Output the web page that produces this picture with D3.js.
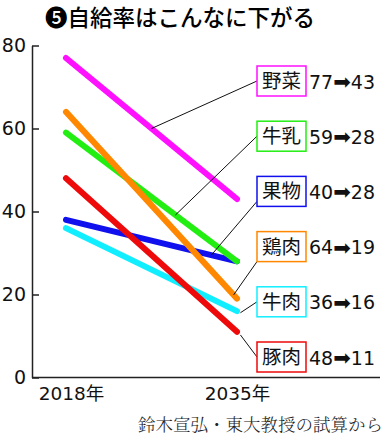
<!DOCTYPE html>
<meta charset="utf-8">
<style>
  body { margin: 0; background: #fff; }
  svg { display: block; }
</style>
<svg width="386" height="436"></svg>
<script src="https://cdn.jsdelivr.net/npm/d3@7"></script>
<script>

// data
var years = ["2018年", "2035年"];
var items = ["野菜", "牛乳", "果物", "鶏肉", "牛肉", "豚肉"];
var v2018 = [77, 59, 38, 64, 36, 48];   // where the lines start
var v2035 = [43, 28, 28, 19, 16, 11];
var labelFrom = [77, 59, 40, 64, 36, 48]; // numbers printed in the labels
var labelTo = [43, 28, 28, 19, 16, 11];
var colors = ["#ff10ff", "#22ee11", "#1010ee", "#ff8800", "#11eeff", "#ee0a0a"];
var yTicks = [0, 20, 40, 60, 80];

// where each leader line touches its series (fraction along the line) and shift at the box
var leaders = [[0.50, 0], [0.64, 0], [0.85, 10], [0.98, 15], [1.02, 0], [1.02, 0]];

var svg = d3.select("svg");
var numFont = "'DejaVu Sans', sans-serif";
var jpFont = "'Noto Sans CJK JP', sans-serif";

var x = d3.scalePoint().domain(years).range([66, 237]);
var y = d3.scaleLinear().domain([0, 80]).range([377.5, 45.5]);
var row = d3.scalePoint().domain(items).range([81, 357]);

// title
svg.append("text")
    .attr("x", 45).attr("y", 26)
    .style("font-family", jpFont)
    .style("font-size", "22.5px")
    .style("font-weight", 500)
    .text("❺自給率はこんなに下がる");

// y axis, ticks pointing inward
var yAxis = svg.append("g")
    .attr("transform", "translate(32,0)")
    .call(d3.axisLeft(y).tickValues(yTicks).tickSizeInner(-7).tickSizeOuter(0).tickPadding(6));
yAxis.selectAll("path, line").attr("stroke", "#222").attr("stroke-width", 1.5);
yAxis.selectAll("text")
    .style("font-family", numFont)
    .style("font-size", "19px")
    .attr("fill", "#111");

// x axis line across the whole plot
svg.append("line")
    .attr("x1", 32).attr("x2", 380)
    .attr("y1", y(0)).attr("y2", y(0))
    .attr("stroke", "#222").attr("stroke-width", 1.5);

var xAxis = svg.append("g")
    .attr("transform", "translate(0," + y(0) + ")")
    .call(d3.axisBottom(x).tickSize(0).tickPadding(9));
xAxis.select(".domain").remove();
xAxis.selectAll("text")
    .style("font-family", numFont + ", " + jpFont)
    .style("font-size", "18.5px")
    .attr("fill", "#111");
xAxis.selectAll(".tick").filter(function(d, i) { return i == 0; })
    .select("text").attr("dx", 5);

// series lines
var line = d3.line()
    .x(function(d) { return x(d[0]); })
    .y(function(d) { return y(d[1]); });

var order = [4, 2, 5, 1, 3, 0];
order.forEach(function(i) {
  svg.append("path")
      .attr("d", line([[years[0], v2018[i]], [years[1], v2035[i]]]))
      .attr("fill", "none")
      .attr("stroke", colors[i])
      .attr("stroke-width", 6)
      .attr("stroke-linecap", "round");
});

// leader lines
items.forEach(function(name, i) {
  var t = leaders[i][0];
  var px = x(years[0]) + t * (x(years[1]) - x(years[0]));
  var py = y(v2018[i] + t * (v2035[i] - v2018[i]));
  svg.append("line")
      .attr("x1", px).attr("y1", py)
      .attr("x2", 257).attr("y2", row(name) + leaders[i][1])
      .attr("stroke", "#111")
      .attr("stroke-width", 1);
});

// label boxes
var lab = svg.selectAll(".lab")
    .data(items)
    .enter().append("g")
    .attr("class", "lab")
    .attr("transform", function(d) { return "translate(257," + row(d) + ")"; });

lab.append("rect")
    .attr("x", 0).attr("y", -15)
    .attr("width", 49).attr("height", 30)
    .attr("fill", "#fff")
    .attr("stroke", function(d, i) { return colors[i]; })
    .attr("stroke-width", 1.5);

lab.append("text")
    .attr("x", 24.5).attr("y", 7)
    .attr("text-anchor", "middle")
    .style("font-family", jpFont)
    .style("font-size", "19.5px")
    .attr("fill", "#111")
    .text(function(d) { return d; });

var nums = lab.append("text")
    .attr("x", 52).attr("y", 7.5)
    .style("font-family", numFont)
    .style("font-size", "19px")
    .attr("fill", "#111");
nums.append("tspan").text(function(d, i) { return labelFrom[i]; });
nums.append("tspan").style("font-size", "21px").attr("dy", 0.5).text("➡");
nums.append("tspan").attr("dy", -0.5).text(function(d, i) { return labelTo[i]; });

// source
svg.append("text")
    .attr("x", 383).attr("y", 431)
    .attr("text-anchor", "end")
    .style("font-family", "'Noto Serif CJK JP', " + jpFont)
    .style("font-size", "17.5px")
    .style("font-weight", 300)
    .attr("fill", "#222")
    .text("鈴木宣弘・東大教授の試算から");

</script>
